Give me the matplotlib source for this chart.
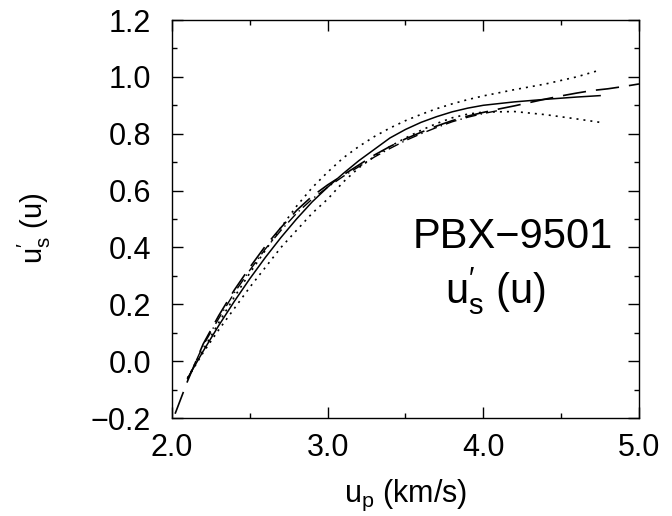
import numpy as np
import matplotlib
matplotlib.use('Agg')
from matplotlib import pyplot as plt
from matplotlib.ticker import MultipleLocator, FuncFormatter

plt.rcParams['font.family'] = ['Liberation Sans', 'DejaVu Sans']
plt.rcParams['mathtext.fontset'] = 'custom'
plt.rcParams['mathtext.rm'] = 'Liberation Sans'
plt.rcParams['mathtext.it'] = 'Liberation Sans'

# best fit (solid) and its two bounds (dotted)
up_fit = [2.10, 2.20, 2.30, 2.40, 2.50, 2.60, 2.70, 2.80, 2.90, 3.00, 3.10, 3.20,
          3.30, 3.40, 3.50, 3.60, 3.70, 3.80, 3.90, 4.00, 4.20, 4.40, 4.60, 4.75]
us_fit = [-0.06, 0.035, 0.125, 0.21, 0.29, 0.365, 0.435, 0.50, 0.56, 0.612, 0.66, 0.705,
          0.745, 0.785, 0.815, 0.84, 0.86, 0.877, 0.89, 0.90, 0.912, 0.921, 0.929, 0.934]
us_upper = [-0.06, 0.04, 0.135, 0.225, 0.31, 0.39, 0.47, 0.545, 0.61, 0.665, 0.715, 0.755,
            0.79, 0.82, 0.846, 0.868, 0.888, 0.905, 0.92, 0.933, 0.955, 0.975, 1.0, 1.024]
us_lower = [-0.06, 0.03, 0.11, 0.185, 0.26, 0.33, 0.40, 0.46, 0.52, 0.57, 0.63, 0.68,
            0.72, 0.755, 0.785, 0.812, 0.836, 0.856, 0.869, 0.876, 0.878, 0.867, 0.852, 0.84]

# long dashed curve
up_dash = [2.02, 2.10, 2.20, 2.30, 2.40, 2.50, 2.60, 2.70, 2.80, 2.90, 3.00, 3.10, 3.20,
           3.30, 3.40, 3.50, 3.60, 3.70, 3.80, 3.90, 4.00, 4.10, 4.20, 4.30, 4.40, 4.50,
           4.60, 4.70, 4.80, 4.90, 5.00]
us_dash = [-0.185, -0.07, 0.06, 0.16, 0.25, 0.33, 0.405, 0.47, 0.53, 0.58, 0.62, 0.655, 0.69,
           0.725, 0.755, 0.782, 0.805, 0.827, 0.846, 0.862, 0.875, 0.887, 0.898, 0.91, 0.922, 0.933,
           0.943, 0.952, 0.958, 0.966, 0.975]

# dash-dot curve (mostly on top of the dashed one)
up_dd = [2.10, 2.20, 2.30, 2.40, 2.50, 2.60, 2.70, 2.80, 2.90, 3.00, 3.10, 3.20,
         3.30, 3.40, 3.50, 3.60, 3.70, 3.80, 3.90, 4.00, 4.10]
us_dd = [-0.065, 0.055, 0.15, 0.24, 0.32, 0.395, 0.46, 0.52, 0.57, 0.612, 0.65, 0.684,
         0.718, 0.748, 0.776, 0.80, 0.822, 0.842, 0.858, 0.871, 0.882]

fig = plt.figure(figsize=(6.72, 5.16), dpi=100)
ax = fig.add_axes([172/672, 1-418/516, 467/672, 398/516])

ax.plot(up_fit, us_fit, color='black', lw=1.1)
ax.plot(up_fit, us_upper, color='black', lw=1.2, dashes=(1.2, 3.0))
ax.plot(up_fit, us_lower, color='black', lw=1.2, dashes=(1.2, 3.0))
ax.plot(up_dash, us_dash, color='black', lw=1.2, dashes=(14, 6))
ax.plot(up_dd, us_dd, color='black', lw=1.0, dashes=(8, 3, 1, 3))

ax.set_xlim(2.0, 5.0)
ax.set_ylim(-0.2, 1.2)
ax.xaxis.set_major_locator(MultipleLocator(1.0))
ax.xaxis.set_minor_locator(MultipleLocator(0.5))
ax.yaxis.set_major_locator(MultipleLocator(0.2))
ax.yaxis.set_minor_locator(MultipleLocator(0.1))
fmt = FuncFormatter(lambda v, p: ('%.1f' % v).replace('-', '\u2212'))
ax.xaxis.set_major_formatter(fmt)
ax.yaxis.set_major_formatter(fmt)

ax.tick_params(which='both', direction='in', top=True, right=True, width=1.0,
               labelsize=22)
ax.tick_params(which='major', length=8, pad=11)
ax.tick_params(which='minor', length=3.5)
ax.tick_params(axis='y', which='major', pad=15)
for s in ax.spines.values():
    s.set_linewidth(1.0)

ax.set_xlabel(r'$\mathregular{u_p}$ (km/s)', fontsize=22)
ax.xaxis.set_label_coords(0.5, -0.15)
ax.set_ylabel(r'$\mathregular{u_s^{\prime}\ (u)}$', fontsize=21)
ax.yaxis.set_label_coords(-0.255, 0.477)

ax.text(4.187, 0.397, 'PBX\u22129501', fontsize=30, ha='center', va='baseline')
ax.text(4.08, 0.204, r'$\mathregular{u_s^{\prime}\ (u)}$', fontsize=30,
        ha='center', va='baseline')

fig.savefig('out.png', dpi=100)
